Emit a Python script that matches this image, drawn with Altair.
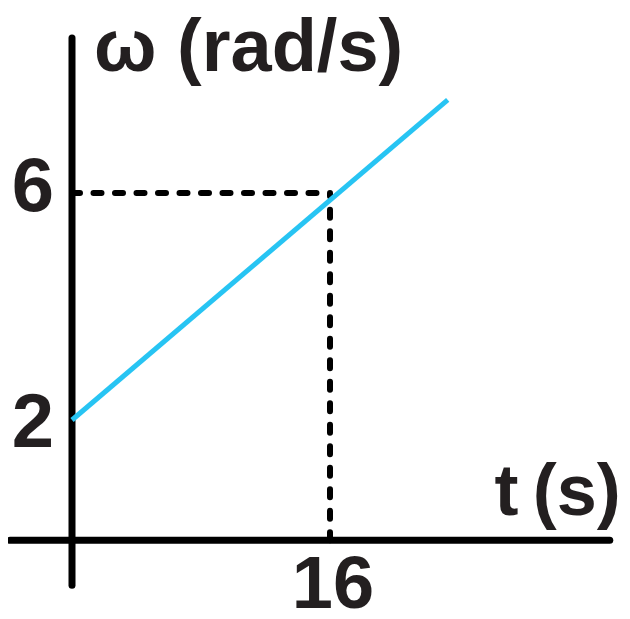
import altair as alt
import pandas as pd

# ---- values ----
line_t = [0, 23.3]          # t (s)
line_omega = [2, 7.64]      # ω (rad/s)
mark_t = 16
mark_omega = 6
y_ticks = [2, 6]
x_ticks = [16]
axis_t_range = [-3.85, 33.35]     # horizontal axis extent (t)
axis_omega_range = [-0.91, 8.73]  # vertical axis extent (ω)
axis_cross_omega = -0.12          # where the t axis sits
x_title = "t\u2009(s)"
y_title = "ω (rad/s)"

W, H = 614, 603
xs = alt.Scale(domain=[-64 / 16.125, (8 + W - 72) / 16.125], nice=False, zero=False)
ys = alt.Scale(domain=[2 - (8 + H - 420) / 56.75, 9.260], nice=False, zero=False)
FONT = "Liberation Sans"
TXT = "#231f20"

df_line = pd.DataFrame({"t": line_t, "w": line_omega})
df_xaxis = pd.DataFrame({"t": [axis_t_range[0]], "t2": [axis_t_range[1]], "w": [axis_cross_omega]})
df_yaxis = pd.DataFrame({"t": [0], "w": [axis_omega_range[0]], "w2": [axis_omega_range[1]]})
df_hdash = pd.DataFrame({"t": [0], "t2": [mark_t], "w": [mark_omega]})
df_vdash = pd.DataFrame({"t": [mark_t], "w": [axis_cross_omega], "w2": [mark_omega]})
df_ylab_lo = pd.DataFrame({"t": [0], "w": [y_ticks[0]], "lab": [str(y_ticks[0])]})
df_ylab_hi = pd.DataFrame({"t": [0], "w": [y_ticks[1]], "lab": [str(y_ticks[1])]})
df_xlab = pd.DataFrame({"t": x_ticks, "w": [axis_cross_omega] * len(x_ticks), "lab": [str(v) for v in x_ticks]})
df_ytitle = pd.DataFrame({"t": [0], "w": [axis_omega_range[1]], "lab": [y_title]})
df_xtitle = pd.DataFrame({"t": [axis_t_range[1]], "w": [axis_cross_omega], "lab": [x_title]})

X = lambda f="t": alt.X(f"{f}:Q", scale=xs, axis=None)
Y = lambda f="w": alt.Y(f"{f}:Q", scale=ys, axis=None)

dash_style = dict(color="black", strokeWidth=6, strokeCap="round", strokeDash=[8, 13.5])

hdash = alt.Chart(df_hdash).mark_rule(**dash_style).encode(x=X(), x2="t2:Q", y=Y())
vdash = alt.Chart(df_vdash).mark_rule(**dash_style).encode(x=X(), y=Y(), y2="w2:Q")

xaxis = alt.Chart(df_xaxis).mark_rule(color="black", strokeWidth=7, strokeCap="round").encode(
    x=X(), x2="t2:Q", y=Y())
yaxis = alt.Chart(df_yaxis).mark_rule(color="black", strokeWidth=7, strokeCap="round").encode(
    x=X(), y=Y(), y2="w2:Q")

line = alt.Chart(df_line).mark_line(color="#27c4f3", strokeWidth=5).encode(x=X(), y=Y())

lab_style = dict(font=FONT, fontWeight="bold", fontSize=76, color=TXT, align="center", baseline="alphabetic")
ylab_lo = alt.Chart(df_ylab_lo).mark_text(dx=-39, dy=27, **lab_style).encode(x=X(), y=Y(), text="lab:N")
ylab_hi = alt.Chart(df_ylab_hi).mark_text(dx=-39, dy=18, **lab_style).encode(x=X(), y=Y(), text="lab:N")
xlab = alt.Chart(df_xlab).mark_text(dx=3, dy=68, font=FONT, fontWeight="bold", fontSize=74, color=TXT,
                                    align="center", baseline="alphabetic").encode(x=X(), y=Y(), text="lab:N")
ytitle = alt.Chart(df_ytitle).mark_text(font=FONT, fontWeight="bold", fontSize=74, color=TXT,
                                        align="left", baseline="alphabetic", dx=22, dy=33).encode(
    x=X(), y=Y(), text="lab:N")
xtitle = alt.Chart(df_xtitle).mark_text(font=FONT, fontWeight="bold", fontSize=72, color=TXT,
                                        align="right", baseline="alphabetic", dx=11, dy=-25).encode(
    x=X(), y=Y(), text="lab:N")

chart = alt.layer(hdash, vdash, xaxis, yaxis, line, ylab_lo, ylab_hi, xlab, ytitle, xtitle).properties(
    width=W, height=H, padding=0, autosize=alt.AutoSizeParams(type="none"),
    background="white"
).configure_view(stroke=None)

chart.save("out.html", embed_options={"renderer": "svg", "actions": False})
